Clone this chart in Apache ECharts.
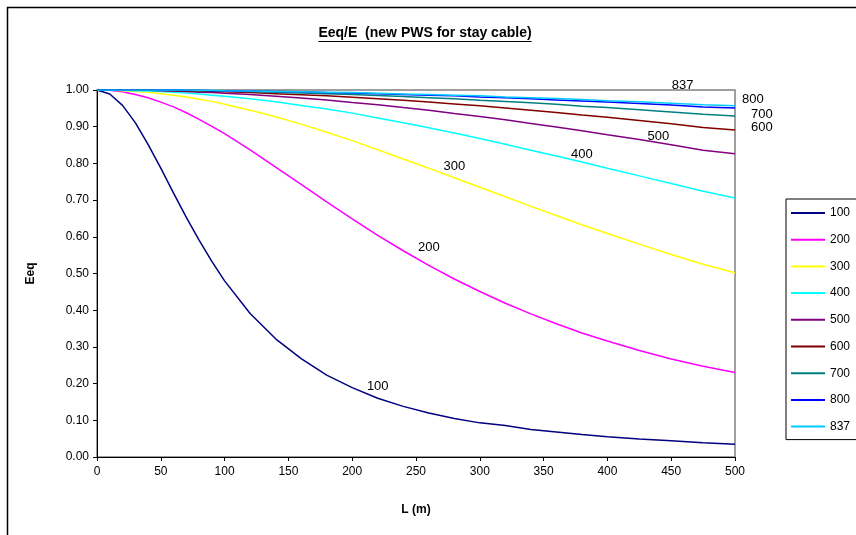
<!DOCTYPE html>
<html>
<head>
<meta charset="utf-8">
<title>Eeq/E</title>
<script src="https://cdn.jsdelivr.net/npm/echarts@6/dist/echarts.min.js"></script>
<style>
html, body { margin: 0; padding: 0; background: #fff; }
#main { width: 856px; height: 535px; }
</style>
</head>
<body>
<div id="main"></div>
<script>
// cable length L (m)
var L = [0, 10, 20, 30, 40, 50, 60, 70, 80, 90, 100, 120, 140, 160, 180, 200, 220, 240, 260, 280, 300, 320, 340, 360, 380, 400, 425, 450, 475, 500]

// Eeq/E, one list per stress level
var s100 = [1.000, 0.989, 0.958, 0.911, 0.852, 0.787, 0.719, 0.653, 0.591, 0.533, 0.480, 0.391, 0.322, 0.268, 0.223, 0.189, 0.160, 0.138, 0.120, 0.105, 0.093, 0.086, 0.075, 0.068, 0.061, 0.055, 0.049, 0.044, 0.039, 0.035]
var s200 = [1.000, 0.999, 0.995, 0.988, 0.979, 0.967, 0.954, 0.938, 0.920, 0.901, 0.881, 0.837, 0.790, 0.743, 0.695, 0.649, 0.604, 0.562, 0.522, 0.485, 0.451, 0.419, 0.390, 0.363, 0.338, 0.316, 0.290, 0.267, 0.247, 0.230]
var s300 = [1.000, 1.000, 0.998, 0.996, 0.994, 0.990, 0.986, 0.981, 0.975, 0.969, 0.961, 0.945, 0.927, 0.907, 0.885, 0.862, 0.837, 0.812, 0.787, 0.761, 0.735, 0.709, 0.683, 0.658, 0.633, 0.609, 0.580, 0.552, 0.525, 0.502]
var s400 = [1.000, 1.000, 0.999, 0.998, 0.997, 0.996, 0.994, 0.992, 0.989, 0.986, 0.983, 0.976, 0.968, 0.958, 0.948, 0.937, 0.924, 0.911, 0.897, 0.883, 0.868, 0.852, 0.836, 0.820, 0.804, 0.787, 0.766, 0.745, 0.724, 0.706]
var s500 = [1.000, 1.000, 1.000, 0.999, 0.999, 0.998, 0.997, 0.996, 0.994, 0.993, 0.991, 0.988, 0.983, 0.978, 0.973, 0.966, 0.960, 0.952, 0.945, 0.936, 0.928, 0.919, 0.909, 0.899, 0.889, 0.878, 0.865, 0.851, 0.836, 0.826]
var s600 = [1.000, 1.000, 1.000, 1.000, 1.000, 0.999, 0.998, 0.998, 0.997, 0.996, 0.995, 0.993, 0.990, 0.987, 0.984, 0.980, 0.976, 0.972, 0.967, 0.962, 0.957, 0.951, 0.945, 0.939, 0.932, 0.926, 0.917, 0.908, 0.898, 0.891]
var s700 = [1.000, 1.000, 1.000, 1.000, 1.000, 1.000, 0.999, 0.999, 0.998, 0.998, 0.997, 0.996, 0.994, 0.992, 0.990, 0.988, 0.985, 0.982, 0.979, 0.976, 0.972, 0.969, 0.965, 0.961, 0.956, 0.952, 0.946, 0.940, 0.934, 0.929]
var s800 = [1.000, 1.000, 1.000, 1.000, 1.000, 1.000, 1.000, 0.999, 0.999, 0.998, 0.998, 0.997, 0.996, 0.995, 0.993, 0.992, 0.990, 0.988, 0.986, 0.984, 0.981, 0.979, 0.976, 0.973, 0.970, 0.967, 0.963, 0.959, 0.954, 0.951]
var s837 = [1.000, 1.000, 1.000, 1.000, 1.000, 1.000, 1.000, 1.000, 0.999, 0.999, 0.998, 0.997, 0.996, 0.995, 0.994, 0.993, 0.991, 0.989, 0.988, 0.986, 0.984, 0.981, 0.979, 0.977, 0.974, 0.971, 0.968, 0.964, 0.960, 0.957]

var names = ['100', '200', '300', '400', '500', '600', '700', '800', '837']
var values = [s100, s200, s300, s400, s500, s600, s700, s800, s837]
var colors = ['#000080', '#FF00FF', '#FFFF00', '#00FFFF', '#800080', '#800000', '#008080', '#0000FF', '#00CCFF']

// text labels written next to the curves (in chart units: L, Eeq)
var curveLabels = [
  ['100', 220, 0.191],
  ['200', 260, 0.572],
  ['300', 280, 0.793],
  ['400', 380, 0.825],
  ['500', 440, 0.873],
  ['600', 521, 0.897],
  ['700', 521, 0.933],
  ['800', 514, 0.973],
  ['837', 459, 1.012]
]

var font = '"Liberation Sans", Arial, sans-serif'
var titleText = 'Eeq/E  (new PWS for stay cable)'

// measure title width for the underline
var ctx = document.createElement('canvas').getContext('2d')
ctx.font = 'bold 14px ' + font
var titleW = ctx.measureText(titleText).width
var titleX = 425

var myChart = echarts.init(document.getElementById('main'))

var series = []
for (var i = 0; i < names.length; i++) {
  var pts = []
  for (var j = 0; j < L.length; j++) pts.push([L[j], values[i][j]])
  series.push({
    name: names[i],
    type: 'line',
    data: pts,
    symbol: 'none',
    lineStyle: { color: colors[i], width: 1.5 },
    itemStyle: { color: colors[i] }
  })
}
series.push({
  name: 'labels',
  type: 'scatter',
  silent: true,
  clip: false,
  symbolSize: 0,
  itemStyle: { opacity: 1, color: '#000' },
  data: curveLabels.map(function (d) { return [d[1], d[2], d[0]] }),
  label: {
    show: true,
    position: 'inside',
    formatter: function (p) { return p.value[2] },
    color: '#000',
    textBorderWidth: 0,
    fontSize: 13,
    fontFamily: font
  }
})

myChart.setOption({
  animation: false,
  backgroundColor: '#fff',
  legend: {
    data: names,
    orient: 'vertical',
    left: 786,
    top: 199,
    padding: [7, 30, 6, 5],
    icon: 'rect',
    itemWidth: 34,
    itemHeight: 2,
    itemGap: 12.7,
    borderColor: '#000',
    borderWidth: 1,
    backgroundColor: '#fff',
    textStyle: { fontFamily: font, fontSize: 12, color: '#000', lineHeight: 14 }
  },
  grid: {
    left: 97,
    right: 121,
    top: 90,
    bottom: 78,
    show: true,
    borderColor: '#808080',
    borderWidth: 1.5
  },
  xAxis: {
    type: 'value',
    min: 0,
    max: 500,
    interval: 50,
    name: 'L (m)',
    nameLocation: 'middle',
    nameGap: 47,
    nameTextStyle: { fontFamily: font, fontSize: 12, fontWeight: 'bold', color: '#000' },
    axisLine: { lineStyle: { color: '#000', width: 1 } },
    axisTick: { inside: false, length: 4, lineStyle: { color: '#000' } },
    axisLabel: { fontFamily: font, fontSize: 12, color: '#000', margin: 9 },
    splitLine: { show: false }
  },
  yAxis: {
    type: 'value',
    min: 0,
    max: 1,
    interval: 0.1,
    name: 'Eeq',
    nameLocation: 'middle',
    nameGap: 60,
    nameRotate: 90,
    nameTextStyle: { fontFamily: font, fontSize: 12, fontWeight: 'bold', color: '#000' },
    axisLine: { show: true, lineStyle: { color: '#000', width: 1 } },
    axisTick: { show: true, inside: false, length: 4, lineStyle: { color: '#000' } },
    axisLabel: {
      fontFamily: font, fontSize: 12, color: '#000', margin: 8,
      formatter: function (v) { return v.toFixed(2) }
    },
    splitLine: { show: false }
  },
  graphic: [
    // chart area frame
    { type: 'rect', shape: { x: 7.5, y: 7.5, width: 900, height: 600 }, style: { fill: null, stroke: '#000', lineWidth: 1.5 }, silent: true, z: -1 },
    // title and its underline
    { type: 'text', style: { x: titleX, y: 33, text: titleText, align: 'center', verticalAlign: 'middle', fill: '#000', font: 'bold 14px ' + font }, silent: true },
    { type: 'line', shape: { x1: titleX - titleW / 2, y1: 41.5, x2: titleX + titleW / 2, y2: 41.5 }, style: { stroke: '#000', lineWidth: 1 }, silent: true }
  ],
  series: series
})
</script>
</body>
</html>
